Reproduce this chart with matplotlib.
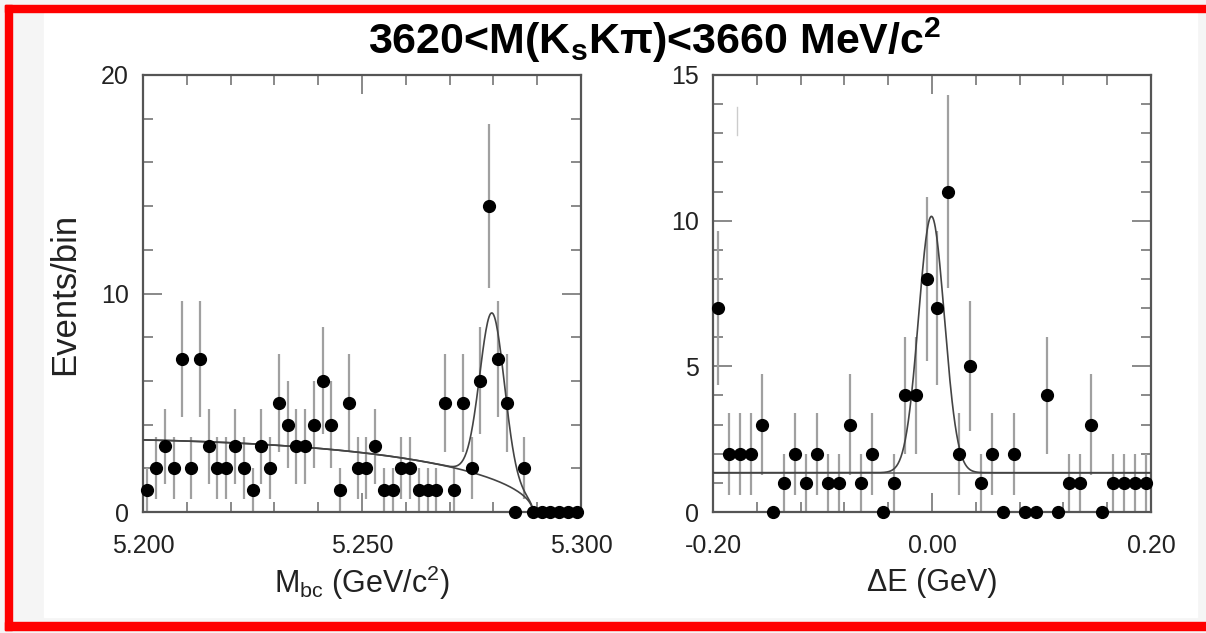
import numpy as np
import matplotlib.pyplot as plt
from matplotlib.patches import Rectangle
from matplotlib.ticker import MultipleLocator, FixedLocator, FixedFormatter

plt.rcParams['font.family'] = ['Liberation Sans', 'DejaVu Sans']
plt.rcParams['mathtext.fontset'] = 'custom'
plt.rcParams['mathtext.rm'] = 'Liberation Sans'
plt.rcParams['mathtext.it'] = 'Liberation Sans:italic'
plt.rcParams['mathtext.bf'] = 'Liberation Sans:bold'

# M_bc histogram, 2 MeV bins starting at 5.200 GeV
mbc_lo = 5.200
mbc_binw = 0.002
mbc_counts = [1, 2, 3, 2, 7, 2, 7, 3, 2, 2,
              3, 2, 1, 3, 2, 5, 4, 3, 3, 4,
              6, 4, 1, 5, 2, 2, 3, 1, 1, 2,
              2, 1, 1, 1, 5, 1, 5, 2, 6, 14,
              7, 5, 0, 2, 0, 0, 0, 0, 0, 0]

# Delta E histogram, 10 MeV bins starting at -0.20 GeV
de_lo = -0.20
de_binw = 0.01
de_counts = [7, 2, 2, 2, 3, 0, 1, 2, 1, 2,
             1, 1, 3, 1, 2, 0, 1, 4, 4, 8,
             7, 11, 2, 5, 1, 2, 0, 2, 0, 0,
             4, 0, 1, 1, 3, 0, 1, 1, 1, 1]

# fit results
mbc_bkg_at_lo = 3.3      # ARGUS value at 5.200
mbc_endpoint = 5.289
mbc_argus_c = -11.0
mbc_sig_mean = 5.2797
mbc_sig_sigma = 0.0028
mbc_sig_amp = 7.6

de_bkg = 1.35
de_sig_mean = -0.0005
de_sig_sigma = 0.0118
de_sig_amp = 8.8

title = '3620<M(K$_\\mathbf{s}$Kπ)<3660 MeV/c$^\\mathbf{2}$'
mbc_label = 'M$_\\mathrm{bc}$ (GeV/c$^2$)'
de_label = 'ΔE (GeV)'
ylabel = 'Events/bin'
mbc_ticks = [5.200, 5.250, 5.300]
mbc_ticklabels = ['5.200', '5.250', '5.300']
de_ticks = [-0.20, 0.00, 0.20]
de_ticklabels = ['-0.20', '0.00', '0.20']


def argus(m):
    x = m / mbc_endpoint
    return m * np.sqrt(np.clip(1 - x**2, 0, None)) * np.exp(mbc_argus_c * (1 - x**2))


W, H = 1206, 633
fig = plt.figure(figsize=(W / 100, H / 100), dpi=100, facecolor='#f5f5f5')


def px_rect(x0, y0, x1, y1, color):
    fig.patches.append(Rectangle((x0 / W, 1 - y1 / H), (x1 - x0) / W, (y1 - y0) / H,
                                 transform=fig.transFigure, color=color, zorder=-5))


px_rect(44, 13, 1197, 617, 'white')
px_rect(5, 5, 1206, 12, '#ff0000')
px_rect(5, 5, 12, 630, '#ff0000')
px_rect(5, 622, 1206, 630, '#ff0000')

ax1 = fig.add_axes([143 / W, 1 - 512 / H, 438 / W, 437 / H])
ax2 = fig.add_axes([713 / W, 1 - 512 / H, 438 / W, 437 / H])


def draw_hist(ax, lo, binw, counts):
    counts = np.array(counts, dtype=float)
    x = lo + binw * (np.arange(len(counts)) + 0.5)
    err = np.sqrt(counts)
    has = counts > 0
    ax.vlines(x[has], counts[has] - err[has], counts[has] + err[has],
              color='#a0a0a0', lw=1.6, zorder=2)
    ax.plot(x, counts, 'o', color='black', ms=8.5, zorder=4, clip_on=False)


draw_hist(ax1, mbc_lo, mbc_binw, mbc_counts)
draw_hist(ax2, de_lo, de_binw, de_counts)

# M_bc fit: ARGUS background + gaussian signal
m = np.linspace(mbc_lo, mbc_endpoint, 500)
bkg = mbc_bkg_at_lo * argus(m) / argus(np.array([mbc_lo]))[0]
tot = bkg + mbc_sig_amp * np.exp(-0.5 * ((m - mbc_sig_mean) / mbc_sig_sigma) ** 2)
tot[-1] = 0
ax1.plot(m, bkg, color='#444444', lw=1.2, zorder=3)
ax1.plot(m, tot, color='#444444', lw=1.2, zorder=3)

# Delta E fit: flat background + gaussian signal
d = np.linspace(-0.2, 0.2, 600)
ax2.plot(d, np.full_like(d, de_bkg), color='#555555', lw=1.1, zorder=3)
ax2.plot(d, de_bkg + de_sig_amp * np.exp(-0.5 * ((d - de_sig_mean) / de_sig_sigma) ** 2),
         color='#444444', lw=1.2, zorder=3)
ax2.plot([-0.178, -0.178], [12.95, 13.9], color='#cccccc', lw=1)

ax1.set_xlim(5.2, 5.3)
ax1.set_ylim(0, 20)
ax1.xaxis.set_major_locator(FixedLocator(mbc_ticks))
ax1.xaxis.set_major_formatter(FixedFormatter(mbc_ticklabels))
ax1.xaxis.set_minor_locator(MultipleLocator(0.01))
ax1.yaxis.set_major_locator(MultipleLocator(10))
ax1.yaxis.set_minor_locator(MultipleLocator(2))

ax2.set_xlim(-0.2, 0.2)
ax2.set_ylim(0, 15)
ax2.xaxis.set_major_locator(FixedLocator(de_ticks))
ax2.xaxis.set_major_formatter(FixedFormatter(de_ticklabels))
ax2.xaxis.set_minor_locator(MultipleLocator(0.04))
ax2.yaxis.set_major_locator(MultipleLocator(5))
ax2.yaxis.set_minor_locator(MultipleLocator(1))

for ax in (ax1, ax2):
    for s in ax.spines.values():
        s.set_color('#555555')
        s.set_linewidth(1.6)
    ax.tick_params(which='both', direction='in', top=True, right=True,
                   color='#808080', width=1.3, labelsize=18, labelcolor='#222222')
    ax.tick_params(which='major', length=14)
    ax.tick_params(which='minor', length=7)
    ax.tick_params(axis='x', pad=16)
    ax.tick_params(axis='y', pad=10)

ax1.set_xlabel(mbc_label, fontsize=22, color='#222222', va='center')
ax1.xaxis.set_label_coords(0.5, -0.162)
ax2.set_xlabel(de_label, fontsize=22, color='#222222', va='center')
ax2.xaxis.set_label_coords(0.5, -0.162)
ax1.set_ylabel(ylabel, fontsize=25, color='#222222', va='center')
ax1.yaxis.set_label_coords(-0.178, 0.5)

fig.text(655 / W, 1 - 40 / H, title, fontsize=31, fontweight='bold',
         ha='center', va='center', color='black')

fig.savefig('out.png', dpi=100, facecolor=fig.get_facecolor())
